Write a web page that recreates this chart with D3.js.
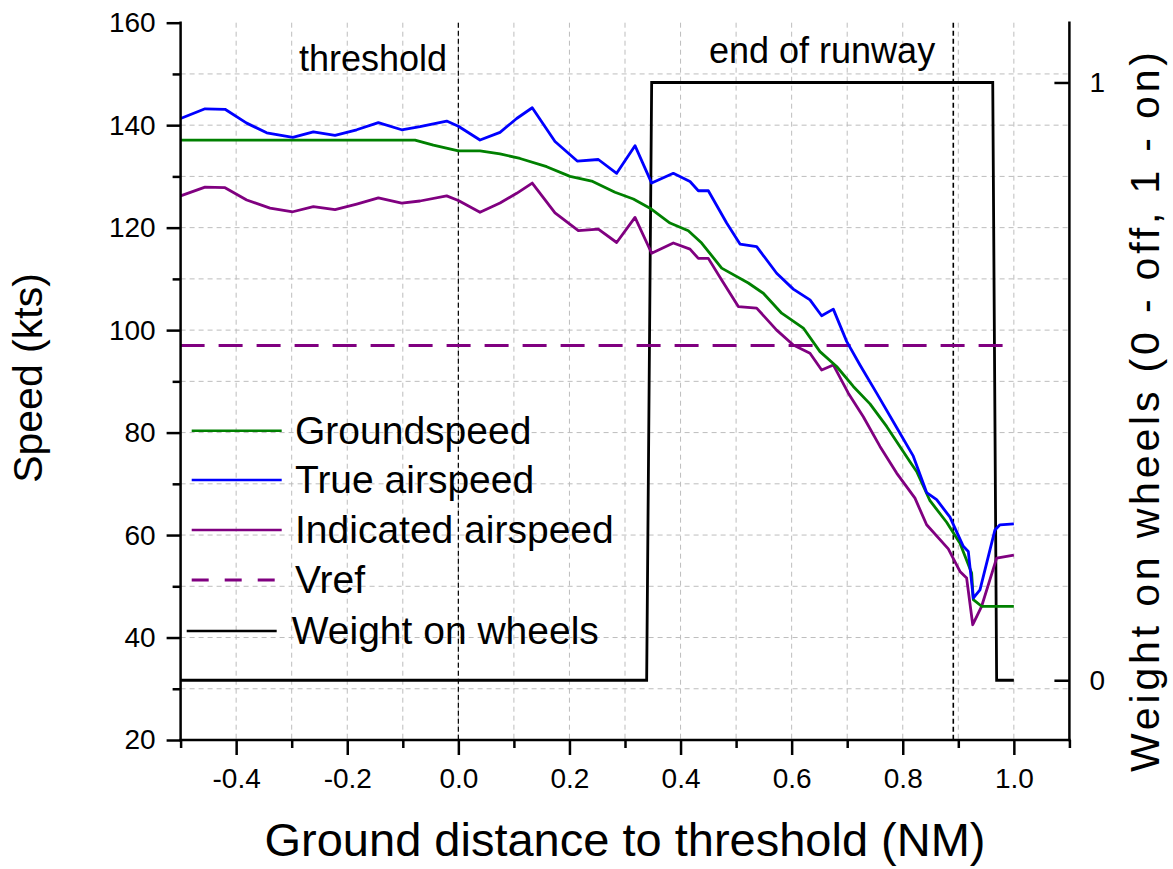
<!DOCTYPE html>
<html>
<head>
<meta charset="utf-8">
<script src="https://cdn.jsdelivr.net/npm/d3@7"></script>
<style>
  body { margin: 0; background: #fff; }
  text { font-family: "Liberation Sans", Arial, sans-serif; fill: #000; }
</style>
</head>
<body>
<svg id="chart" width="1173" height="869"></svg>
<script>
// ground distance to threshold (NM) and speeds (kts)
let gsDist = [-0.5, -0.078, -0.045, 0.0, 0.039, 0.075, 0.111, 0.159, 0.201, 0.24, 0.282, 0.315, 0.345, 0.381, 0.414, 0.438, 0.474, 0.522, 0.549, 0.582, 0.621, 0.651, 0.681, 0.711, 0.741, 0.771, 0.813, 0.825, 0.849, 0.879, 0.903, 0.924, 0.927, 0.942, 1.0];
let gsKts  = [137.1, 137.1, 136.1, 135.0, 135.0, 134.4, 133.5, 131.9, 130.0, 129.1, 126.9, 125.6, 123.8, 120.9, 119.4, 117.0, 112.1, 109.2, 107.2, 103.3, 100.4, 95.8, 92.9, 89.0, 85.6, 81.2, 74.3, 72.4, 66.7, 62.5, 58.4, 52.6, 47.4, 46.1, 46.1];

let tasDist = [-0.5, -0.456, -0.42, -0.381, -0.345, -0.298, -0.261, -0.222, -0.183, -0.144, -0.102, -0.069, -0.021, 0.0, 0.039, 0.075, 0.105, 0.133, 0.174, 0.214, 0.252, 0.285, 0.318, 0.348, 0.387, 0.417, 0.432, 0.45, 0.483, 0.507, 0.537, 0.573, 0.603, 0.633, 0.654, 0.675, 0.699, 0.723, 0.753, 0.789, 0.819, 0.843, 0.861, 0.885, 0.909, 0.918, 0.927, 0.939, 0.966, 0.975, 1.0];
let tasKts  = [141.3, 143.2, 143.1, 140.4, 138.5, 137.6, 138.7, 138.0, 139.1, 140.5, 139.1, 139.7, 140.8, 139.8, 137.1, 138.6, 141.3, 143.4, 136.8, 133.0, 133.3, 130.6, 136.0, 128.7, 130.6, 129.0, 127.2, 127.2, 120.9, 116.8, 116.3, 111.1, 108.0, 105.9, 102.8, 104.1, 97.8, 93.2, 87.7, 81.0, 75.4, 68.3, 66.9, 63.5, 57.8, 56.8, 47.7, 49.3, 61.0, 62.0, 62.2];

let iasDist = [-0.5, -0.456, -0.42, -0.381, -0.339, -0.298, -0.261, -0.222, -0.183, -0.144, -0.102, -0.069, -0.021, 0.0, 0.039, 0.075, 0.105, 0.133, 0.174, 0.216, 0.252, 0.285, 0.318, 0.348, 0.387, 0.417, 0.432, 0.45, 0.474, 0.504, 0.537, 0.573, 0.603, 0.633, 0.654, 0.675, 0.702, 0.729, 0.759, 0.789, 0.822, 0.843, 0.882, 0.903, 0.915, 0.926, 0.942, 0.969, 1.0];
let iasKts  = [126.2, 127.9, 127.8, 125.4, 123.8, 123.1, 124.1, 123.5, 124.6, 125.8, 124.8, 125.2, 126.2, 125.3, 123.0, 124.8, 126.7, 128.7, 122.9, 119.4, 119.7, 117.1, 122.0, 115.0, 117.0, 115.8, 114.0, 114.0, 109.8, 104.6, 104.3, 100.0, 97.1, 95.5, 92.2, 93.2, 87.7, 83.1, 77.3, 72.1, 67.2, 62.0, 57.3, 52.9, 51.6, 42.5, 46.1, 55.5, 56.1];

// weight on wheels (0 - off, 1 - on)
let wowDist = [-0.5, 0.339, 0.348, 0.962, 0.969, 1.0];
let wowVal  = [0, 0, 1, 1, 0, 0];

let vrefKts = 97;
let vrefDist = [-0.5, 1.0];
let thresholdNM = 0.0;
let runwayEndNM = 0.891;

let speedMajor = [20, 40, 60, 80, 100, 120, 140, 160];
let speedMinor = [30, 50, 70, 90, 110, 130, 150];
let distMajor = [-0.4, -0.2, 0.0, 0.2, 0.4, 0.6, 0.8, 1.0];
let distMinor = [-0.5, -0.3, -0.1, 0.1, 0.3, 0.5, 0.7, 0.9, 1.1];
let wowTicks = [0, 1];

let legendNames = ["Groundspeed", "True airspeed", "Indicated airspeed", "Vref", "Weight on wheels"];

let svg = d3.select("#chart");

let plotLeft = 180.6, plotRight = 1069.4, plotTop = 22.7, plotBottom = 740;

let x = d3.scaleLinear().domain([-0.5, 1.1]).range([plotLeft, plotRight]);
let y = d3.scaleLinear().domain([20, 160]).range([plotBottom, plotTop]);
let yRight = d3.scaleLinear().domain([-0.1, 1.1]).range([plotBottom, plotTop]);

// grid
let gridX = d3.range(-4, 11).map(d => d / 10);
let gridY = d3.range(30, 160, 10);
let grid = svg.append("g").attr("stroke", "#bdbdbd").attr("stroke-width", 1).attr("stroke-dasharray", "5,4");
grid.selectAll(".gx").data(gridX).enter().append("line")
  .attr("x1", d => x(d)).attr("x2", d => x(d))
  .attr("y1", plotTop).attr("y2", plotBottom);
grid.selectAll(".gy").data(gridY).enter().append("line")
  .attr("x1", plotLeft).attr("x2", plotRight)
  .attr("y1", d => y(d)).attr("y2", d => y(d));

// threshold and end of runway markers
svg.append("line")
  .attr("x1", x(thresholdNM)).attr("x2", x(thresholdNM))
  .attr("y1", plotTop).attr("y2", plotBottom)
  .attr("stroke", "#000").attr("stroke-width", 1.2).attr("stroke-dasharray", "5,3");
svg.append("line")
  .attr("x1", x(runwayEndNM)).attr("x2", x(runwayEndNM))
  .attr("y1", plotTop).attr("y2", plotBottom)
  .attr("stroke", "#000").attr("stroke-width", 1.6).attr("stroke-dasharray", "5,3");

// series
let lineSpeed = d3.line().x(d => x(d[0])).y(d => y(d[1]));
let lineWow = d3.line().x(d => x(d[0])).y(d => yRight(d[1]));

svg.append("path")
  .attr("d", lineWow(d3.zip(wowDist, wowVal)))
  .attr("fill", "none").attr("stroke", "#000").attr("stroke-width", 2.8);

svg.append("path")
  .attr("d", lineSpeed(vrefDist.map(d => [d, vrefKts])))
  .attr("fill", "none").attr("stroke", "#800080").attr("stroke-width", 3)
  .attr("stroke-dasharray", "24,14");

svg.append("path")
  .attr("d", lineSpeed(d3.zip(iasDist, iasKts)))
  .attr("fill", "none").attr("stroke", "#800080").attr("stroke-width", 2.8)
  .attr("stroke-linejoin", "round");
svg.append("path")
  .attr("d", lineSpeed(d3.zip(gsDist, gsKts)))
  .attr("fill", "none").attr("stroke", "#008000").attr("stroke-width", 2.8)
  .attr("stroke-linejoin", "round");
svg.append("path")
  .attr("d", lineSpeed(d3.zip(tasDist, tasKts)))
  .attr("fill", "none").attr("stroke", "#0000ff").attr("stroke-width", 2.8)
  .attr("stroke-linejoin", "round");

// axes
function styleAxis(g) {
  g.select(".domain").remove();
  g.selectAll("line").attr("stroke", "#000").attr("stroke-width", 2.5);
  g.selectAll("text").style("font-size", "28px").attr("fill", "#000");
}

// plain hyphen for negatives, like the original
let fmtDist = d => d3.format(".1f")(d).replace("\u2212", "-");

svg.append("g")
  .attr("transform", "translate(" + plotLeft + ",0)")
  .call(d3.axisLeft(y).tickValues(speedMajor).tickSize(14).tickPadding(11).tickFormat(d3.format("d")))
  .call(styleAxis);
svg.append("g")
  .attr("transform", "translate(" + plotLeft + ",0)")
  .call(d3.axisLeft(y).tickValues(speedMinor).tickSize(8).tickFormat(""))
  .call(styleAxis);

svg.append("g")
  .attr("transform", "translate(0," + plotBottom + ")")
  .call(d3.axisBottom(x).tickValues(distMajor).tickSize(15).tickPadding(13).tickFormat(fmtDist))
  .call(styleAxis);
svg.append("g")
  .attr("transform", "translate(0," + plotBottom + ")")
  .call(d3.axisBottom(x).tickValues(distMinor).tickSize(8).tickFormat(""))
  .call(styleAxis);

svg.append("g")
  .attr("transform", "translate(" + plotRight + ",0)")
  .call(d3.axisRight(yRight).tickValues(wowTicks).tickSize(-15).tickPadding(20).tickFormat(d3.format("d")))
  .call(styleAxis);

// axis lines
let axisLines = svg.append("g").attr("stroke", "#000").attr("stroke-width", 2.5).attr("stroke-linecap", "square");
axisLines.append("line").attr("x1", plotLeft).attr("x2", plotLeft).attr("y1", plotTop).attr("y2", plotBottom);
axisLines.append("line").attr("x1", plotRight).attr("x2", plotRight).attr("y1", plotTop).attr("y2", plotBottom);
axisLines.append("line").attr("x1", plotLeft).attr("x2", plotRight).attr("y1", plotBottom).attr("y2", plotBottom);

// axis titles
svg.append("text")
  .attr("x", (plotLeft + plotRight) / 2).attr("y", 856)
  .attr("text-anchor", "middle").style("font-size", "47px")
  .text("Ground distance to threshold (NM)");
svg.append("text")
  .attr("transform", "translate(42,378) rotate(-90)")
  .attr("text-anchor", "middle").style("font-size", "41px")
  .text("Speed (kts)");
svg.append("text")
  .attr("transform", "translate(1159,412) rotate(-90)")
  .attr("text-anchor", "middle").style("font-size", "41px")
  .attr("textLength", 720).attr("lengthAdjust", "spacing")
  .text("Weight on wheels (0 - off, 1 - on)");

// annotations
svg.append("text").attr("x", 299).attr("y", 71).style("font-size", "36px").text("threshold");
svg.append("text").attr("x", 709).attr("y", 63).style("font-size", "36px").text("end of runway");

// legend
let legendColors = ["#008000", "#0000ff", "#800080", "#800080", "#000"];
let legendDash = [null, null, null, "17,16", null];
let legendLineY = [430.7, 480, 530, 580, 631];
let legendTextX = [295, 295, 295, 295, 291.7];
let legend = svg.append("g");
legendNames.forEach(function(name, i) {
  let x1 = i == 4 ? 186.7 : 191.7;
  let x2 = i == 4 ? 276.7 : 281.7;
  legend.append("line")
    .attr("x1", x1).attr("x2", x2)
    .attr("y1", legendLineY[i]).attr("y2", legendLineY[i])
    .attr("stroke", legendColors[i])
    .attr("stroke-width", i == 3 ? 3 : 2.5)
    .attr("stroke-dasharray", legendDash[i]);
  legend.append("text")
    .attr("x", legendTextX[i]).attr("y", legendLineY[i] + 13)
    .style("font-size", "39px")
    .text(name);
});
</script>
</body>
</html>
